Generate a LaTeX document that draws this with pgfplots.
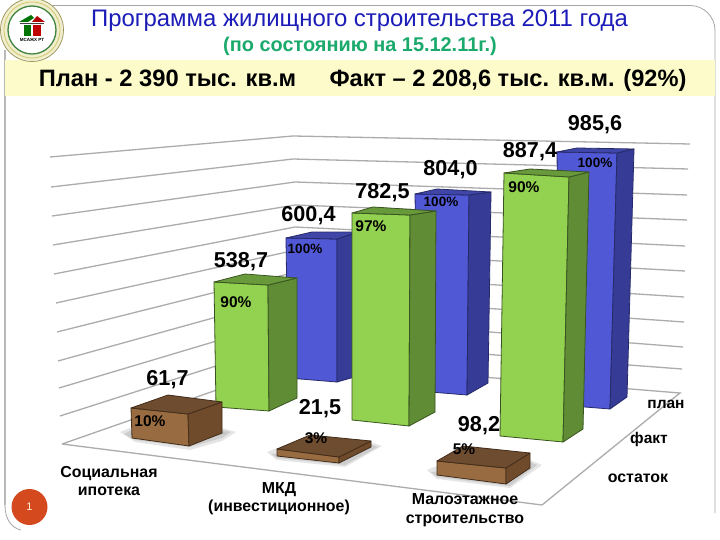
\documentclass[border=0pt]{standalone}
\usepackage{fontspec}
\setmainfont{Liberation Sans}
\usepackage{pgfplots}
\pgfplotsset{compat=1.18}
\definecolor{bluef}{HTML}{5058D6}\definecolor{blues}{HTML}{363C96}\definecolor{bluet}{HTML}{3F46A8}
\definecolor{greenf}{HTML}{93D150}\definecolor{greens}{HTML}{5F8C35}\definecolor{greent}{HTML}{689A3C}
\definecolor{brownf}{HTML}{986B40}\definecolor{browns}{HTML}{6F4B2C}\definecolor{brownt}{HTML}{6E4C2F}
\definecolor{gridc}{HTML}{ACACAC}\definecolor{band}{HTML}{FCFBC9}
\definecolor{titleb}{HTML}{1C1CB8}\definecolor{titleg}{HTML}{1BAA6C}\definecolor{numc}{HTML}{D44A1E}
\newcommand{\gl}[1]{\addplot[gridc,line width=1.3pt,forget plot] coordinates {#1};}
\newcommand{\face}[3]{\addplot[fill=#1,draw=#2,line width=0.8pt,line join=round,forget plot] coordinates {#3} --cycle;}
\newcommand{\shadow}[1]{\addplot[fill=black,fill opacity=0.1,draw=none,forget plot,line join=round] coordinates {#1} --cycle;}
\newcommand{\T}[4]{\node[inner sep=0pt,anchor=base,font=\fontsize{#1}{#1}\selectfont\bfseries] at (axis cs:#2,#3) {#4};}
\begin{document}
\begin{tikzpicture}
\begin{axis}[at={(0,0)},anchor=south west,width=720pt,height=540pt,scale only axis,
  xmin=0,xmax=720,ymin=0,ymax=540,y dir=reverse,axis lines=none,no markers,clip=true]
\fill[white] (axis cs:0,0) rectangle (axis cs:720,540);
% frame
\draw[gray!70,line width=0.8pt] (axis cs:40,5.5) -- (axis cs:690,5.5) arc[start angle=90,end angle=0,radius=25pt] -- (axis cs:715,513);
\draw[gray!55,line width=1.4pt] (axis cs:5,50) -- (axis cs:5,505);
\draw[gray!70,line width=0.8pt] (axis cs:5,505) .. controls (axis cs:5,520) and (axis cs:12,528) .. (axis cs:21,530);
% band
\fill[band] (axis cs:5,60) rectangle (axis cs:715,96);
% wall grid lines
\gl{(50,157)(293,136)(690,144)}
\gl{(51,187)(293,159)(688,169)}
\gl{(52,216)(295,182)(687,195)}
\gl{(53,245)(295,205)(687,220)}
\gl{(54,274)(295,227)(685,246)}
\gl{(56,303)(296,250)(685,271)}
\gl{(57,332)(296,272)(684,297)}
\gl{(58,361)(296,295)(684,322)}
\gl{(59,388)(297,317)(683,347)}
\gl{(60,416)(297,340)(682,369)}
\gl{(62,444)(297,362)(680,393)(542,505)(62,444)}
% blue: plan
\face{bluef}{blues!70!black}{(286,238)(337,239)(337,382)(288,378)}
\face{blues}{blues!70!black}{(337,239)(358,232)(358,376)(337,382)}
\face{bluet}{blues!70!black}{(286,238)(312,232)(358,232)(337,239)}
\face{bluef}{blues!70!black}{(415,194)(469,195)(467,395)(418,391)}
\face{blues}{blues!70!black}{(469,195)(491,192)(488,383)(467,395)}
\face{bluet}{blues!70!black}{(415,194)(437,189)(491,192)(469,195)}
\face{bluef}{blues!70!black}{(557,152)(617,153)(610,409)(560,405)}
\face{blues}{blues!70!black}{(617,153)(634,149)(627,397)(610,409)}
\face{bluet}{blues!70!black}{(557,152)(577,148)(634,149)(617,153)}
% green: fact
\face{greenf}{greens!60!black}{(214,282)(268,285)(269,411)(216,407)}
\face{greens}{greens!60!black}{(268,285)(297,278)(297,398)(269,411)}
\face{greent}{greens!60!black}{(214,282)(245,274)(297,278)(268,285)}
\face{greenf}{greens!60!black}{(352,213)(410,215)(409,426)(352,420)}
\face{greens}{greens!60!black}{(410,215)(436,211)(435,412)(409,426)}
\face{greent}{greens!60!black}{(352,213)(373,207)(436,211)(410,215)}
\face{greenf}{greens!60!black}{(504,173)(569,177)(563,442)(500,436)}
\face{greens}{greens!60!black}{(569,177)(589,172)(583,429)(563,442)}
\face{greent}{greens!60!black}{(504,173)(530,169)(589,172)(569,177)}
% shadows
\shadow{(120,432)(135,426)(222,428)(236,432)(222,441)(190,450)(135,442)}
\shadow{(124,434)(135,428)(222,430)(231,432)(222,438)(190,447)(135,440)}
\shadow{(128,436)(222,432)(226,433)(190,445)}
\shadow{(267,452)(277,448)(370,442)(382,446)(345,467)(277,460)}
\shadow{(271,454)(370,444)(378,447)(345,465)(277,458)}
\shadow{(427,470)(437,466)(530,460)(542,465)(510,488)(437,479)}
\shadow{(431,472)(530,462)(537,465)(510,486)(437,477)}
% brown: remainder
\face{brownf}{browns!60!black}{(131,408)(188,414)(189,446)(132,438)}
\face{browns}{browns!60!black}{(188,414)(222,402)(222,433)(189,446)}
\face{brownt}{browns!60!black}{(131,408)(168,395)(222,402)(188,414)}
\face{brownf}{browns!60!black}{(277,449)(339,457)(339,463)(277,456)}
\face{browns}{browns!60!black}{(339,457)(371,441)(371,447)(339,463)}
\face{brownt}{browns!60!black}{(277,449)(310,435)(371,441)(339,457)}
\face{brownf}{browns!60!black}{(437,461)(506,468)(506,484)(437,475)}
\face{browns}{browns!60!black}{(506,468)(530,453)(530,468)(506,484)}
\face{brownt}{browns!60!black}{(437,461)(463,446)(530,453)(506,468)}
% logo
\fill[black!8!white!85!yellow] (axis cs:32,30) circle[radius=32pt];
\draw[gray!60!olive,line width=0.6pt] (axis cs:32,30) circle[radius=31.5pt];
\draw[olive!45,line width=0.8pt] (axis cs:32,30) circle[radius=28pt];
\fill[white] (axis cs:32,30) circle[radius=24pt];
\draw[green!35!black!75,line width=1.3pt] (axis cs:32,30) circle[radius=24pt];
\fill[green!45!black] (axis cs:19,22) -- (axis cs:31,15) -- (axis cs:34,18) -- (axis cs:28,22) -- cycle;
\fill[red!70!black] (axis cs:32,22) -- (axis cs:37,16) -- (axis cs:45,22) -- cycle;
\fill[green!45!black] (axis cs:24,25) rectangle (axis cs:31,36);
\fill[red!75!black] (axis cs:33,25) rectangle (axis cs:41,36);
\fill[black!75] (axis cs:20,23) rectangle (axis cs:44,24);
\node[inner sep=0pt,font=\fontsize{4.5}{4.5}\selectfont\bfseries] at (axis cs:32,39.5) {МСАЖХ РТ};
% titles
\node[inner sep=0pt,anchor=base,text=titleb,font=\fontsize{23.9}{24}\selectfont] at (axis cs:359.5,27) {Программа жилищного строительства 2011 года};
\T{19.9}{360}{52}{\textcolor{titleg}{(по состоянию на 15.12.11г.)}}
\T{23.7}{167.5}{87}{План - 2 390 тыс. кв.м}
\T{23.6}{508}{87}{Факт – 2 208,6 тыс. кв.м. (92\%)}
% value labels
\T{21.6}{595}{131}{985,6}
\T{21.6}{530}{158}{887,4}
\T{21.6}{450.5}{176}{804,0}
\T{21.6}{382.5}{199}{782,5}
\T{21.6}{308.5}{222}{600,4}
\T{21.6}{241}{267}{538,7}
\T{21.6}{167.5}{385}{61,7}
\T{21.6}{320}{414}{21,5}
\T{21.6}{479}{431}{98,2}
% percent
\T{13.5}{595}{168}{100\%}
\T{13.5}{441}{207}{100\%}
\T{13.5}{305}{253}{100\%}
\T{15.5}{524}{193}{90\%}
\T{15.5}{371}{232}{97\%}
\T{15.5}{236}{307}{90\%}
\T{15.5}{150}{426}{10\%}
\T{15.5}{316}{443}{3\%}
\T{15.5}{464}{454}{5\%}
% categories
\T{15.9}{109}{477}{Социальная}
\T{15.9}{109}{495}{ипотека}
\T{15.9}{279}{493}{МКД}
\T{15.9}{279}{511.5}{(инвестиционное)}
\T{15.9}{465}{504}{Малоэтажное}
\T{15.9}{465}{523}{строительство}
\T{15.5}{666}{408}{план}
\T{15.5}{649}{443}{факт}
\T{15.9}{638}{482}{остаток}
% slide number
\fill[numc] (axis cs:29.5,507) circle[radius=18pt];
\node[inner sep=0pt,text=white!85!orange,font=\fontsize{11}{11}\selectfont] at (axis cs:29.5,507) {1};
\end{axis}
\end{tikzpicture}
\end{document}
